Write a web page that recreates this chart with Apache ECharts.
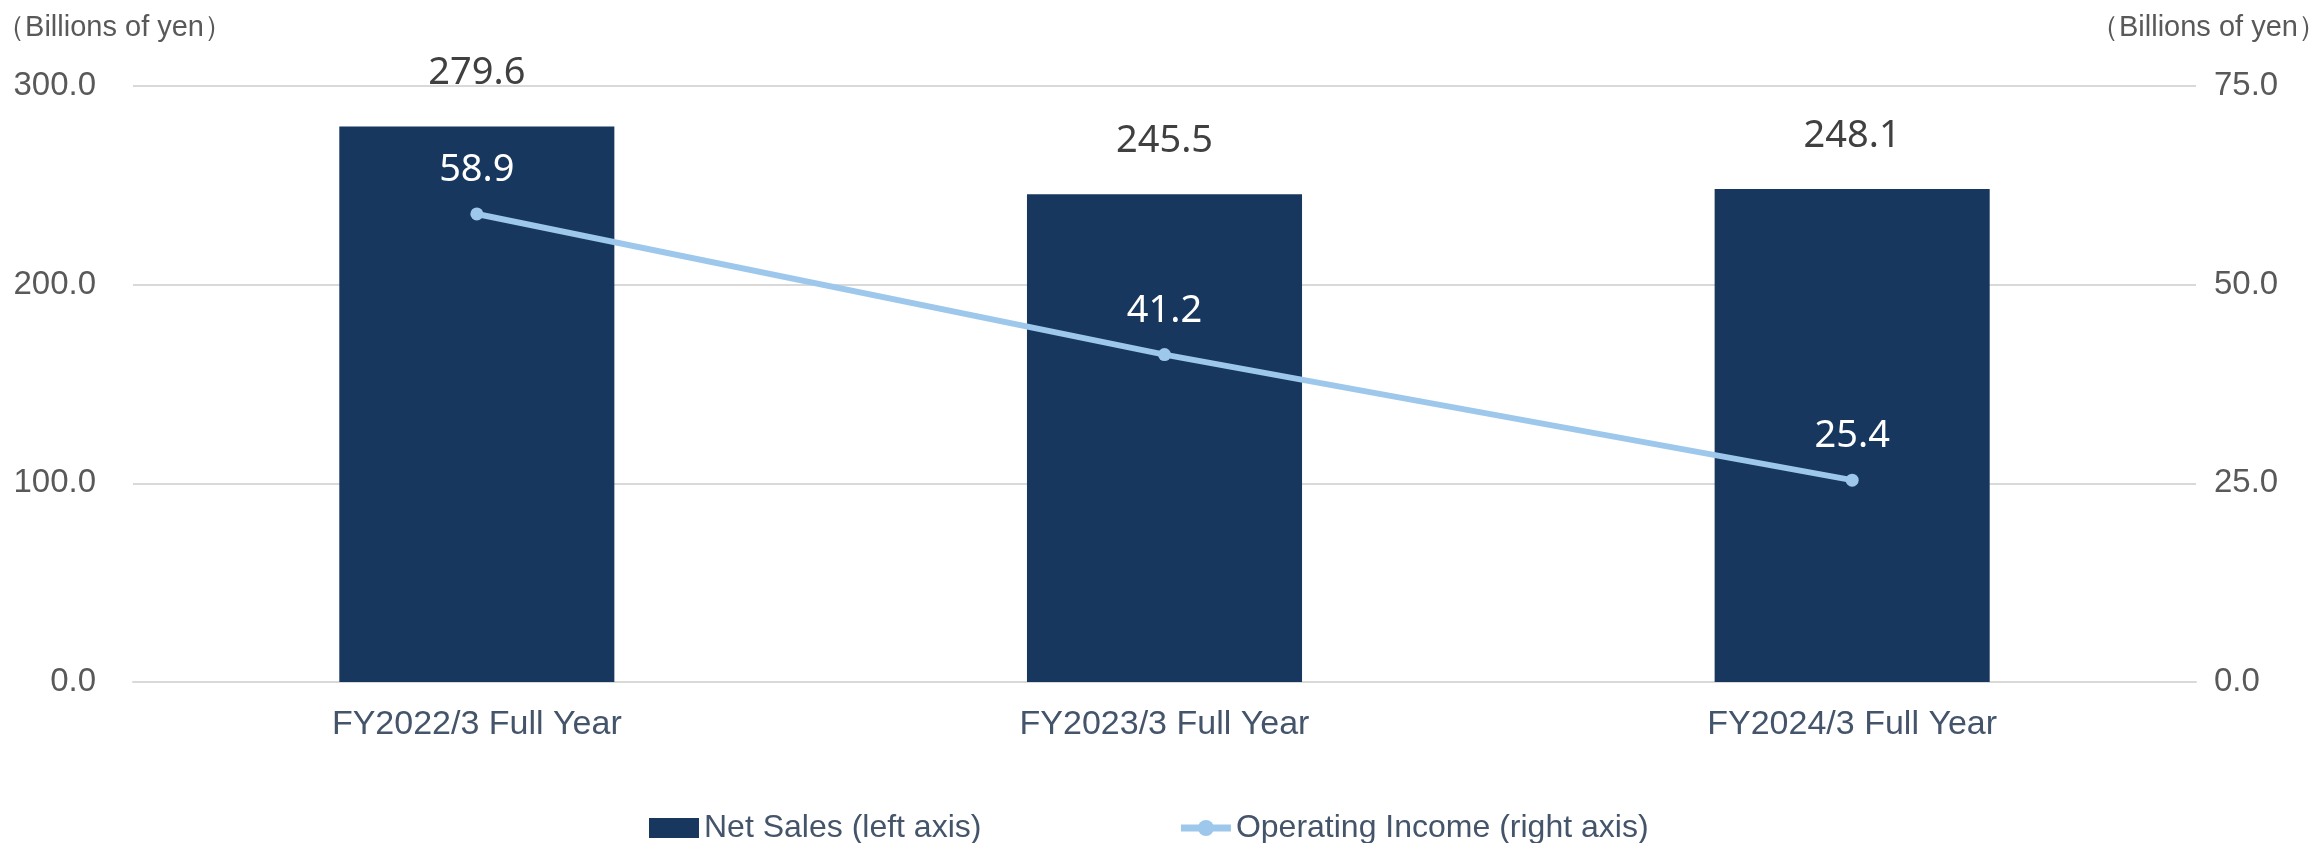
<!DOCTYPE html>
<html>
<head>
<meta charset="utf-8">
<script src="https://cdn.jsdelivr.net/npm/echarts@6/dist/echarts.min.js"></script>
<style>
  html, body { margin: 0; padding: 0; background: #fff; }
  #chart { width: 2311px; height: 843px; }
</style>
</head>
<body>
<div id="chart"></div>
<script>
// 数据
const categories = ["FY2022/3 Full Year", "FY2023/3 Full Year", "FY2024/3 Full Year"];
const netSales = [279.6, 245.5, 248.1];
const operatingIncome = [58.9, 41.2, 25.4];
const leftTicks = [0, 100, 200, 300];
const rightTicks = [0, 25, 50, 75];
const unitLabel = "（Billions of yen）";

const chart = echarts.init(document.getElementById("chart"));
const axisFont = "Arial, 'Liberation Sans', sans-serif";
const valueFont = "'Noto Sans', sans-serif";

chart.setOption({
  animation: false,
  textStyle: { fontFamily: axisFont },
  grid: { left: 133, right: 115, top: 86, bottom: 161, outerBoundsMode: "none", containLabel: false },
  legend: {
    bottom: -6,
    left: 644,
    itemGap: 196,
    itemWidth: 50,
    itemHeight: 20,
    textStyle: { fontSize: 32, color: "#44546a", fontFamily: axisFont },
    data: [
      { name: "Net Sales (left axis)", icon: "rect" },
      { name: "Operating Income (right axis)", lineStyle: { width: 7 } }
    ]
  },
  xAxis: {
    type: "category",
    data: categories,
    axisTick: { show: false },
    axisLine: { lineStyle: { color: "#d9d9d9", width: 2 } },
    axisLabel: { fontSize: 34, color: "#44546a", margin: 26 }
  },
  yAxis: [
    {
      type: "value",
      min: leftTicks[0],
      max: leftTicks[leftTicks.length - 1],
      interval: leftTicks[1] - leftTicks[0],
      name: unitLabel,
      nameLocation: "end",
      nameGap: 44,
      nameTextStyle: { fontSize: 29, color: "#595959", align: "right", padding: [0, -100, 0, 0] },
      axisLine: { show: false },
      axisTick: { show: false },
      axisLabel: { fontSize: 33, color: "#595959", margin: 37, formatter: v => v.toFixed(1) },
      splitLine: { lineStyle: { color: "#d9d9d9", width: 2 } }
    },
    {
      type: "value",
      min: rightTicks[0],
      max: rightTicks[rightTicks.length - 1],
      interval: rightTicks[1] - rightTicks[0],
      name: unitLabel,
      nameLocation: "end",
      nameGap: 44,
      nameTextStyle: { fontSize: 29, color: "#595959", align: "left", padding: [0, 0, 0, -106] },
      axisLine: { show: false },
      axisTick: { show: false },
      axisLabel: { fontSize: 33, color: "#595959", margin: 18, formatter: v => v.toFixed(1) },
      splitLine: { show: false }
    }
  ],
  series: [
    {
      name: "Net Sales (left axis)",
      type: "bar",
      yAxisIndex: 0,
      data: netSales,
      barWidth: "40%",
      itemStyle: { color: "#17375e" },
      label: {
        show: true,
        position: "top",
        distance: 34,
        fontSize: 38,
        fontFamily: valueFont,
        color: "#404040",
        formatter: p => p.value.toFixed(1)
      }
    },
    {
      name: "Operating Income (right axis)",
      type: "line",
      yAxisIndex: 1,
      data: operatingIncome,
      symbol: "circle",
      symbolSize: 13,
      lineStyle: { color: "#9dc8ec", width: 6 },
      itemStyle: { color: "#9dc8ec" },
      label: {
        show: true,
        position: "top",
        distance: 18,
        fontSize: 38,
        fontFamily: valueFont,
        color: "#ffffff",
        formatter: p => p.value.toFixed(1)
      }
    }
  ]
});
</script>
</body>
</html>
